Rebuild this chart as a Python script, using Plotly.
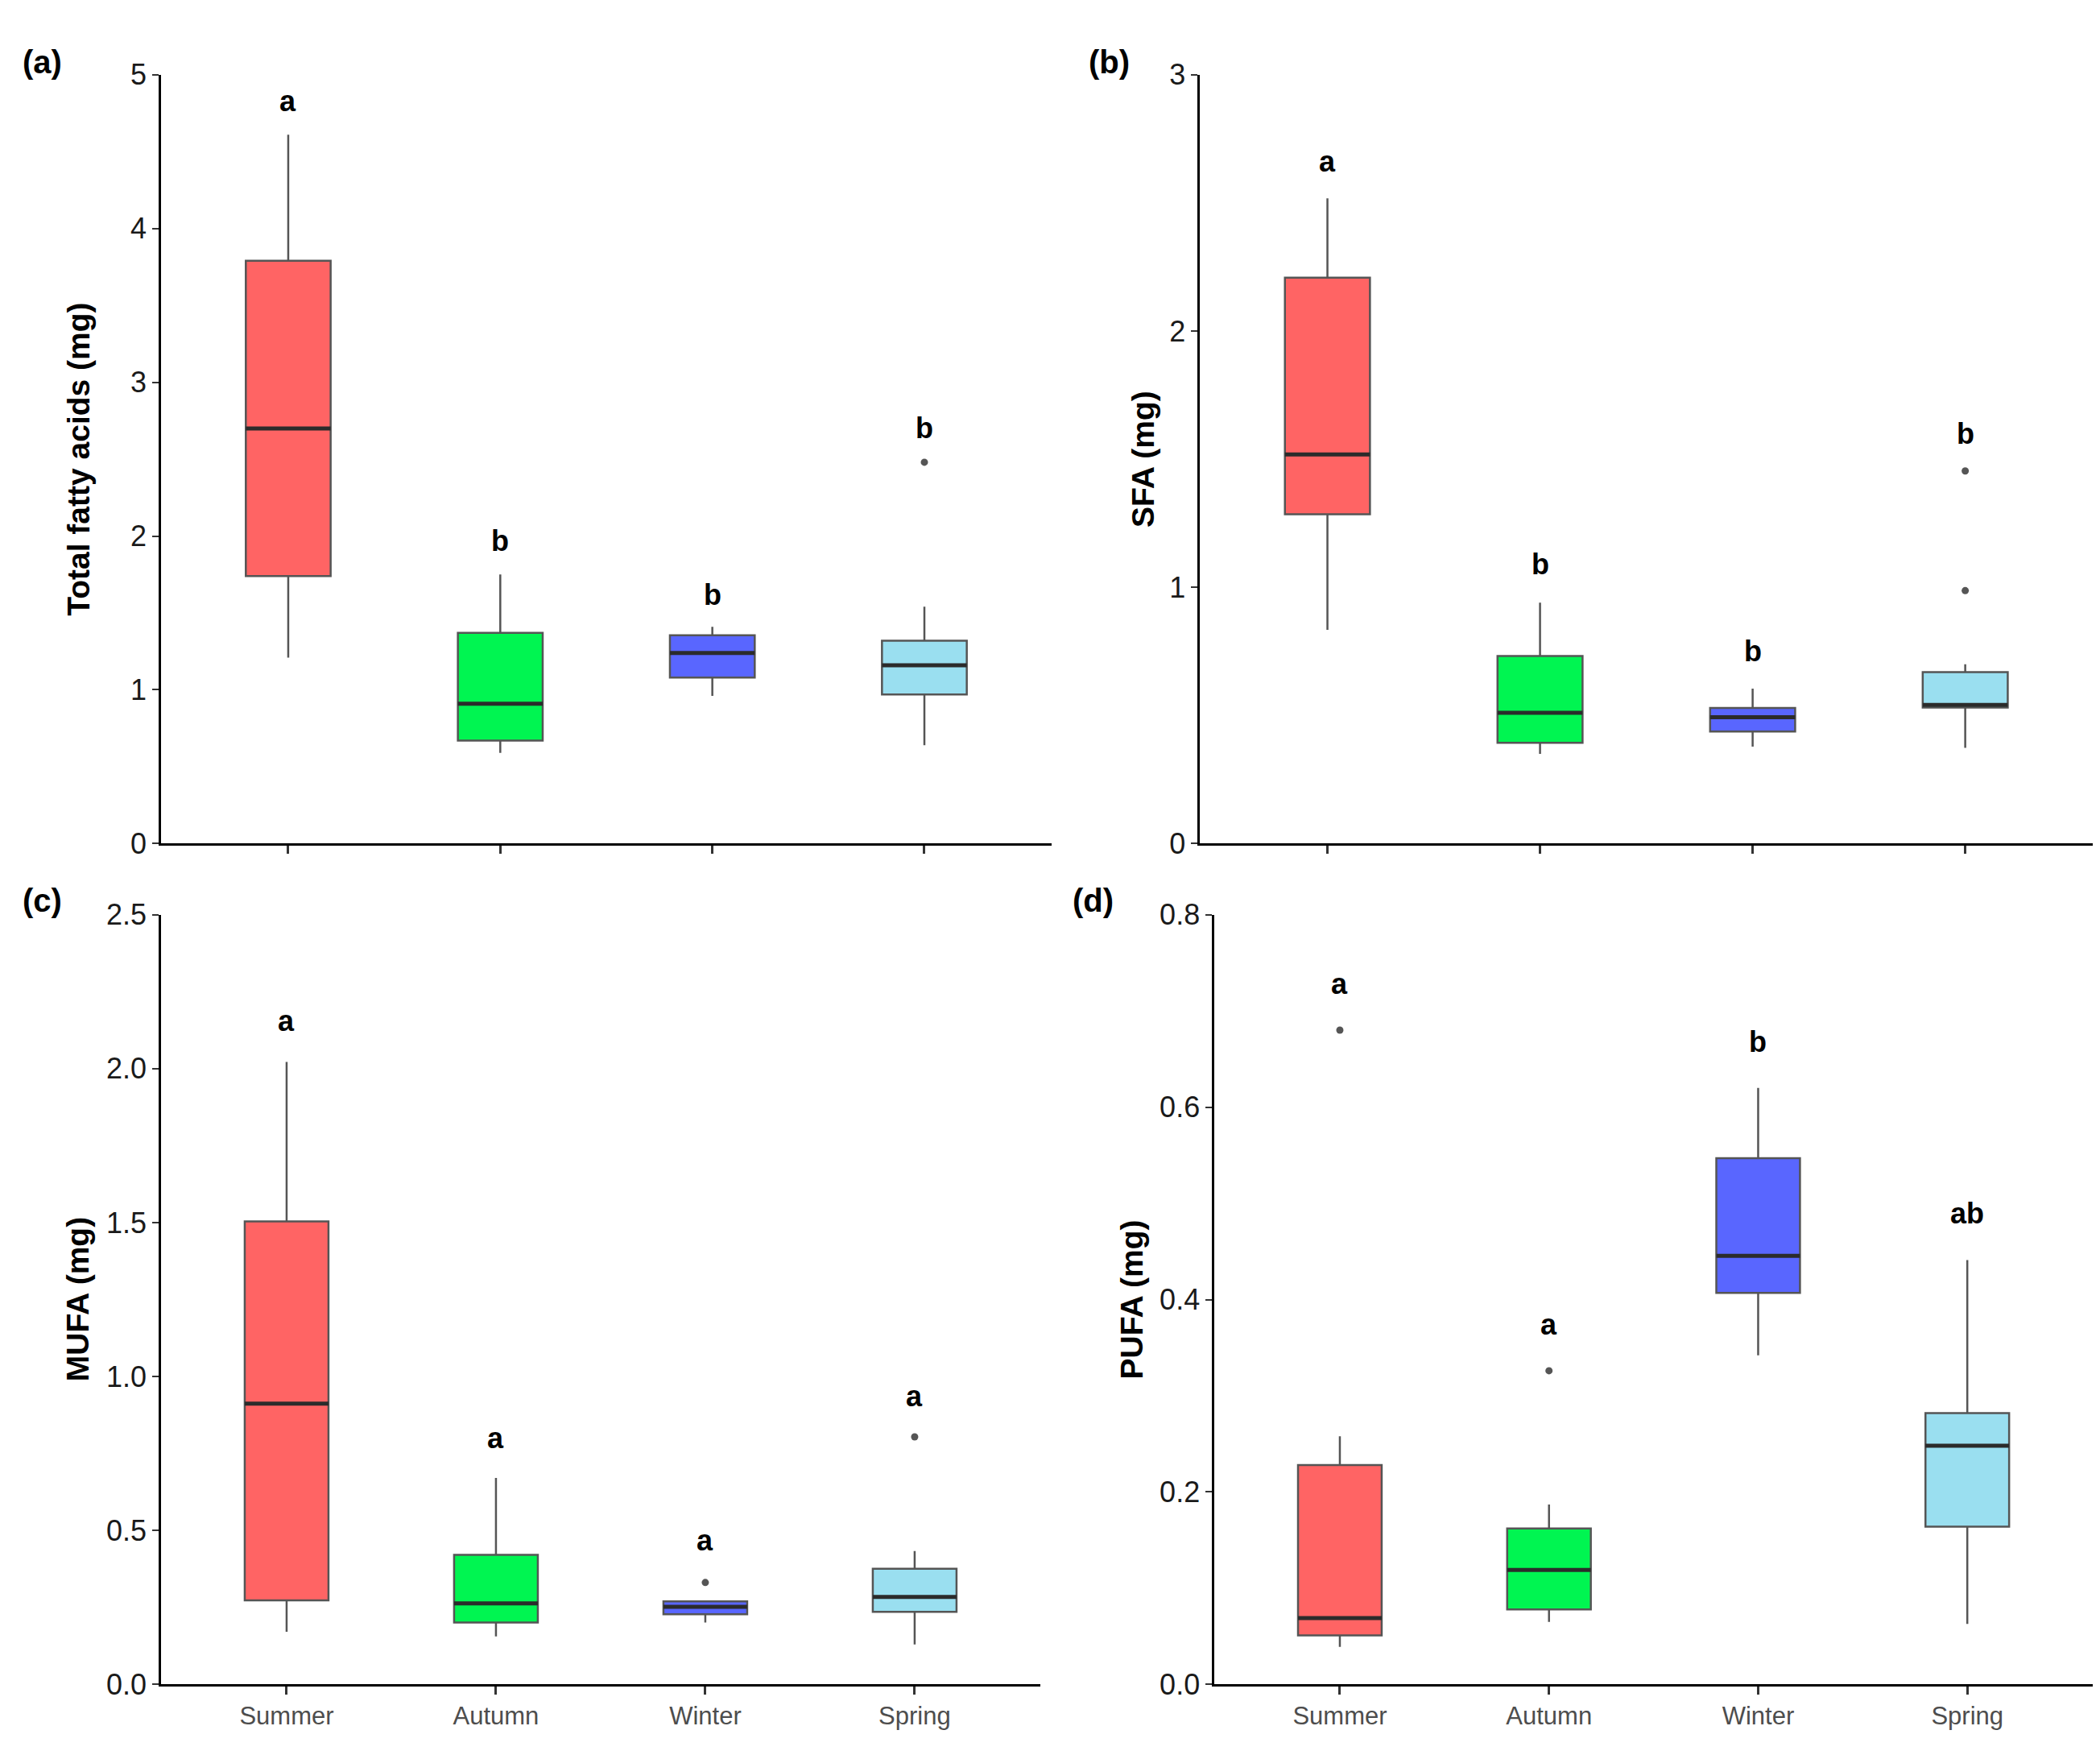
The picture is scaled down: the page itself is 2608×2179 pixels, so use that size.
import plotly.graph_objects as go

seasons = ["Summer", "Autumn", "Winter", "Spring"]
fills = ["#FF6464", "#00F551", "#5966FF", "#9ADFF0"]

# (a) total fatty acids
tfa_low = [1.21, 0.59, 0.96, 0.64]
tfa_q1 = [1.74, 0.67, 1.08, 0.97]
tfa_med = [2.70, 0.91, 1.24, 1.16]
tfa_q3 = [3.79, 1.37, 1.355, 1.32]
tfa_high = [4.61, 1.75, 1.41, 1.54]
tfa_out_x = [3]
tfa_out_y = [2.48]
tfa_letters = ["a", "b", "b", "b"]
tfa_letter_y = [4.83, 1.97, 1.62, 2.70]

# (b) SFA
sfa_low = [0.834, 0.350, 0.378, 0.374]
sfa_q1 = [1.285, 0.393, 0.437, 0.531]
sfa_med = [1.518, 0.510, 0.493, 0.541]
sfa_q3 = [2.208, 0.732, 0.529, 0.669]
sfa_high = [2.518, 0.940, 0.605, 0.700]
sfa_out_x = [3, 3]
sfa_out_y = [1.454, 0.987]
sfa_letters = ["a", "b", "b", "b"]
sfa_letter_y = [2.66, 1.09, 0.75, 1.60]

# (c) MUFA
mufa_low = [0.171, 0.156, 0.201, 0.130]
mufa_q1 = [0.273, 0.201, 0.228, 0.236]
mufa_med = [0.912, 0.263, 0.252, 0.284]
mufa_q3 = [1.504, 0.421, 0.270, 0.376]
mufa_high = [2.022, 0.671, 0.270, 0.433]
mufa_out_x = [2, 3]
mufa_out_y = [0.331, 0.804]
mufa_letters = ["a", "a", "a", "a"]
mufa_letter_y = [2.155, 0.80, 0.468, 0.935]

# (d) PUFA
pufa_low = [0.039, 0.065, 0.342, 0.063]
pufa_q1 = [0.051, 0.078, 0.407, 0.164]
pufa_med = [0.069, 0.119, 0.4455, 0.248]
pufa_q3 = [0.228, 0.162, 0.547, 0.282]
pufa_high = [0.258, 0.187, 0.620, 0.441]
pufa_out_x = [0, 1]
pufa_out_y = [0.680, 0.326]
pufa_letters = ["a", "a", "b", "ab"]
pufa_letter_y = [0.728, 0.374, 0.668, 0.49]

panels = [
    dict(tag="(a)", title="Total fatty acids (mg)", ymax=5, dtick=1, fmt="d",
         low=tfa_low, q1=tfa_q1, med=tfa_med, q3=tfa_q3, high=tfa_high,
         ox=tfa_out_x, oy=tfa_out_y, let=tfa_letters, ly=tfa_letter_y,
         xd=[0.0736, 0.4977], yd=[0.5232, 0.9697], labels=False, tx=0.007, ty=0.977, ax=0.034),
    dict(tag="(b)", title="SFA (mg)", ymax=3, dtick=1, fmt="d",
         low=sfa_low, q1=sfa_q1, med=sfa_med, q3=sfa_q3, high=sfa_high,
         ox=sfa_out_x, oy=sfa_out_y, let=sfa_letters, ly=sfa_letter_y,
         xd=[0.5683, 0.9935], yd=[0.5232, 0.9697], labels=False, tx=0.5145, ty=0.977, ax=0.541),
    dict(tag="(c)", title="MUFA (mg)", ymax=2.5, dtick=0.5, fmt=".1f",
         low=mufa_low, q1=mufa_q1, med=mufa_med, q3=mufa_q3, high=mufa_high,
         ox=mufa_out_x, oy=mufa_out_y, let=mufa_letters, ly=mufa_letter_y,
         xd=[0.0736, 0.4923], yd=[0.0349, 0.4819], labels=True, tx=0.007, ty=0.490, ax=0.034),
    dict(tag="(d)", title="PUFA (mg)", ymax=0.8, dtick=0.2, fmt=".1f",
         low=pufa_low, q1=pufa_q1, med=pufa_med, q3=pufa_q3, high=pufa_high,
         ox=pufa_out_x, oy=pufa_out_y, let=pufa_letters, ly=pufa_letter_y,
         xd=[0.5752, 0.9935], yd=[0.0349, 0.4819], labels=True, tx=0.507, ty=0.490, ax=0.536),
]

font = "Liberation Sans, Arial, sans-serif"
half = 0.2

fig = go.Figure()
annotations = []
layout = {}

for k, p in enumerate(panels):
    n = "" if k == 0 else str(k + 1)
    xr, yr = "x" + n, "y" + n
    for i, s in enumerate(seasons):
        fig.add_trace(go.Box(
            x=[i], q1=[p["q1"][i]], median=[p["med"][i]], q3=[p["q3"][i]],
            lowerfence=[p["low"][i]], upperfence=[p["high"][i]],
            width=0.4, whiskerwidth=0, fillcolor=fills[i],
            line=dict(color="#555555", width=2.5),
            boxpoints=False, name=s, showlegend=False,
            xaxis=xr, yaxis=yr,
        ))
        # thicker median bar like ggplot
        fig.add_trace(go.Scatter(
            x=[i - half, i + half], y=[p["med"][i], p["med"][i]], mode="lines",
            line=dict(color="#2b2b2b", width=5), showlegend=False, hoverinfo="skip",
            xaxis=xr, yaxis=yr,
        ))
        annotations.append(dict(
            x=i, y=p["ly"][i], xref=xr, yref=yr, text="<b>" + p["let"][i] + "</b>",
            showarrow=False, font=dict(family=font, size=36, color="black"),
        ))
    fig.add_trace(go.Scatter(
        x=p["ox"], y=p["oy"], mode="markers",
        marker=dict(color="#555555", size=9), showlegend=False,
        xaxis=xr, yaxis=yr,
    ))

    layout["xaxis" + n] = dict(
        domain=p["xd"], anchor=yr, range=[-0.6, 3.6],
        tickvals=[0, 1, 2, 3], ticktext=seasons if p["labels"] else ["", "", "", ""],
        showline=True, linecolor="black", linewidth=2.5,
        ticks="outside", ticklen=10, tickwidth=2.5, tickcolor="#333333",
        showgrid=False, zeroline=False,
        tickfont=dict(family=font, size=31, color="#4d4d4d"),
    )
    layout["yaxis" + n] = dict(
        domain=p["yd"], anchor=xr, range=[0, p["ymax"]], dtick=p["dtick"],
        tickformat=p["fmt"],
        showline=True, linecolor="black", linewidth=2.5,
        ticks="outside", ticklen=8, tickwidth=2, tickcolor="#333333",
        showgrid=False, zeroline=False,
        tickfont=dict(family=font, size=36, color="#1a1a1a"),
    )
    annotations.append(dict(
        x=p["tx"], y=p["ty"], xref="paper", yref="paper", text="<b>" + p["tag"] + "</b>",
        showarrow=False, xanchor="left", yanchor="middle",
        font=dict(family=font, size=40, color="black"),
    ))
    annotations.append(dict(
        x=p["ax"], y=sum(p["yd"]) / 2, xref="paper", yref="paper",
        text="<b>" + p["title"] + "</b>", textangle=-90,
        showarrow=False, xanchor="center", yanchor="middle",
        font=dict(family=font, size=39, color="black"),
    ))

fig.update_layout(
    width=2608, height=2179,
    margin=dict(l=0, r=0, t=0, b=0),
    paper_bgcolor="white", plot_bgcolor="white",
    showlegend=False,
    annotations=annotations,
    **layout,
)

fig.write_html("out.html")
